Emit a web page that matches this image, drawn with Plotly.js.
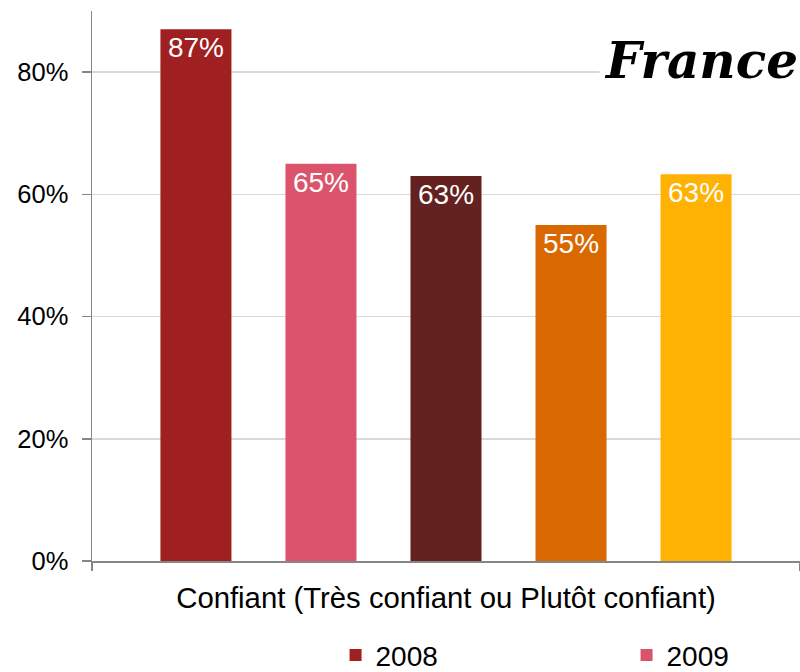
<!DOCTYPE html>
<html>
<head>
<meta charset="utf-8">
<script src="https://cdn.plot.ly/plotly-3.0.1.min.js"></script>
<style>html,body{margin:0;padding:0;background:#fff;}#chart{width:800px;height:672px;}</style>
</head>
<body>
<div id="chart"></div>
<script>
const category = ['Confiant (Très confiant ou Plutôt confiant)'];
const years = ['2008', '2009', '2010', '2011', '2012'];
const values2008 = [87];
const values2009 = [65];
const values2010 = [63];
const values2011 = [55];
const values2012 = [63.3];
const seriesValues = [values2008, values2009, values2010, values2011, values2012];
const colors = ['#A01F21', '#DB546B', '#63211F', '#DA6801', '#FFB201'];
const legendShown = [true, true, false, false, false];
const titleText = 'France';

const traces = years.map((yr, i) => ({
  type: 'bar',
  name: yr,
  x: category,
  y: seriesValues[i],
  marker: {color: colors[i]},
  text: seriesValues[i].map(v => Math.round(v) + '%'),
  textposition: 'inside',
  insidetextanchor: 'end',
  textfont: {family: 'Liberation Sans, Arial, sans-serif', size: 28, color: '#ffffff'},
  showlegend: legendShown[i],
  hoverinfo: 'none'
}));

const layout = {
  width: 800, height: 672,
  margin: {l: 92, r: 0, t: 11, b: 111, autoexpand: false},
  paper_bgcolor: '#ffffff', plot_bgcolor: '#ffffff',
  font: {family: 'Liberation Sans, Arial, sans-serif', size: 26, color: '#000000'},
  barmode: 'group',
  bargap: 0.117,
  bargroupgap: 0.432,
  xaxis: {
    showline: true, linecolor: '#868686', linewidth: 1.5,
    ticks: 'outside', tickson: 'boundaries', ticklen: 8, tickcolor: '#868686', tickwidth: 1.5,
    tickfont: {size: 29.3}, ticklabelstandoff: 10,
    showgrid: false, zeroline: false
  },
  yaxis: {
    range: [0, 90], dtick: 20, ticksuffix: '%',
    showline: true, linecolor: '#868686', linewidth: 1.5,
    ticks: 'outside', ticklen: 9, tickcolor: '#868686', tickwidth: 1.5,
    tickfont: {size: 25.5}, ticklabelstandoff: 8,
    showgrid: true, gridcolor: '#D9D9D9', gridwidth: 1.5,
    zeroline: false
  },
  legend: {
    orientation: 'h', x: 0.344, xanchor: 'left', y: -0.126, yanchor: 'top',
    entrywidth: 246, entrywidthmode: 'pixels', itemwidth: 30,
    font: {size: 28}, bgcolor: 'rgba(0,0,0,0)'
  },
  annotations: [{
    text: '<b><i>' + titleText + '</i></b>',
    xref: 'paper', yref: 'paper', x: 1, y: 1, xanchor: 'right', yanchor: 'top',
    yshift: -15, xshift: 3,
    showarrow: false, bgcolor: '#ffffff', borderpad: 4,
    font: {family: 'DejaVu Serif, Liberation Serif, serif', size: 50, color: '#000000'}
  }]
};

Plotly.newPlot('chart', traces, layout, {displayModeBar: false, staticPlot: true});
</script>
</body>
</html>
